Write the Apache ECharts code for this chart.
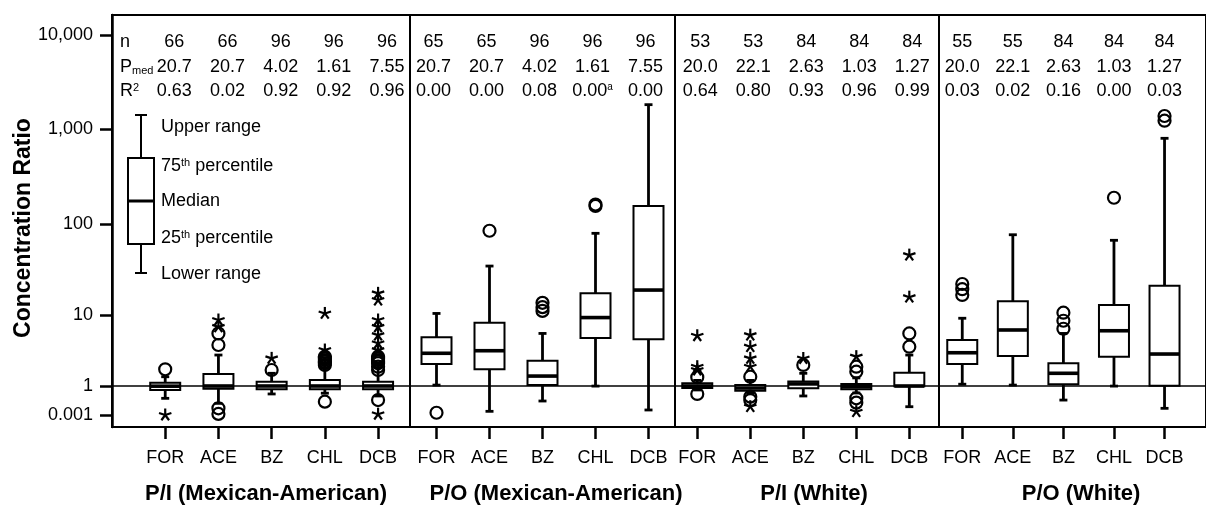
<!DOCTYPE html>
<html>
<head>
<meta charset="utf-8">
<script src="https://cdn.jsdelivr.net/npm/echarts@6/dist/echarts.min.js"></script>
<style>
  html, body { margin: 0; padding: 0; background: #fff; }
  #chart { width: 1206px; height: 505px; }
</style>
</head>
<body>
<div id="chart"></div>
<script>
// ---- data ----
const categories = ['FOR', 'ACE', 'BZ', 'CHL', 'DCB'];
const panelNames = ['P/I (Mexican-American)', 'P/O (Mexican-American)', 'P/I (White)', 'P/O (White)'];

const nCounts = [[66, 66, 96, 96, 96], [65, 65, 96, 96, 96], [53, 53, 84, 84, 84], [55, 55, 84, 84, 84]];
const medianP = [
  ['20.7', '20.7', '4.02', '1.61', '7.55'],
  ['20.7', '20.7', '4.02', '1.61', '7.55'],
  ['20.0', '22.1', '2.63', '1.03', '1.27'],
  ['20.0', '22.1', '2.63', '1.03', '1.27']
];
const rSquared = [
  ['0.63', '0.02', '0.92', '0.92', '0.96'],
  ['0.00', '0.00', '0.08', '0.00', '0.00'],
  ['0.64', '0.80', '0.93', '0.96', '0.99'],
  ['0.03', '0.02', '0.16', '0.00', '0.03']
];
const footnoteMark = { panel: 1, cat: 'CHL', mark: 'a' };

// box = [lower range, 25th, median, 75th, upper range]
const boxPIMex = [
  [0.053, 0.39, 0.96, 1.11, 1.35],
  [0.016, 0.53, 1.0, 1.48, 2.73],
  [0.15, 0.46, 1.0, 1.15, 1.51],
  [0.18, 0.46, 1.0, 1.21, 2.32],
  [0.093, 0.46, 1.0, 1.15, 2.09]
];
const boxPOMex = [
  [1.03, 2.04, 2.89, 4.85, 10.4],
  [0.0024, 1.72, 3.14, 7.8, 34.5],
  [0.028, 1.03, 1.38, 2.27, 5.5],
  [0.98, 4.74, 9.2, 17.3, 79],
  [0.0033, 4.55, 18.8, 155, 1815]
];
const boxPIWhite = [
  [0.39, 0.62, 1.0, 1.09, 1.2],
  [0.19, 0.33, 0.62, 1.03, 1.2],
  [0.093, 0.58, 1.07, 1.16, 1.51],
  [0.19, 0.46, 0.85, 1.07, 1.3],
  [0.0072, 0.93, 1.0, 1.54, 2.73]
];
const boxPOWhite = [
  [1.06, 2.04, 2.94, 4.45, 9.0],
  [1.03, 2.65, 6.15, 14.2, 76.2],
  [0.035, 1.06, 1.51, 2.09, 5.5],
  [0.98, 2.59, 6.0, 12.9, 66.2],
  [0.0049, 1.01, 2.82, 21, 798]
];

// outliers: [category, value]
const circlesPIMex = [['FOR', 1.72], ['ACE', 3.78], ['ACE', 5.5], ['ACE', 0.0049], ['ACE', 0.0013],
  ['BZ', 1.68], ['CHL', 2.59], ['CHL', 2.45], ['CHL', 2.32], ['CHL', 2.2], ['CHL', 2.09], ['CHL', 1.98], ['CHL', 0.024],
  ['DCB', 2.59], ['DCB', 2.45], ['DCB', 2.32], ['DCB', 2.2], ['DCB', 2.09], ['DCB', 1.87], ['DCB', 1.68], ['DCB', 0.035]];
const starsPIMex = [['FOR', 0.001], ['ACE', 8.5], ['ACE', 6.8], ['BZ', 2.45], ['CHL', 3.21], ['CHL', 10.4],
  ['DCB', 17.3], ['DCB', 14.6], ['DCB', 8.5], ['DCB', 6.8], ['DCB', 5.2], ['DCB', 4.0], ['DCB', 3.2], ['DCB', 0.0012]];

const circlesPOMex = [['FOR', 0.0017], ['ACE', 84.3], ['BZ', 13.6], ['BZ', 12.2], ['BZ', 11.1], ['CHL', 155], ['CHL', 160]];
const starsPOMex = [];

const circlesPIWhite = [['FOR', 1.33], ['FOR', 0.15], ['ACE', 1.35], ['ACE', 0.079], ['ACE', 0.035], ['BZ', 1.98],
  ['CHL', 1.87], ['CHL', 1.59], ['CHL', 0.053], ['CHL', 0.019], ['DCB', 5.5], ['DCB', 3.58]];
const starsPIWhite = [['FOR', 1.87], ['FOR', 1.68], ['FOR', 5.1], ['ACE', 5.2], ['ACE', 3.58], ['ACE', 2.45], ['ACE', 1.87],
  ['ACE', 0.0072], ['BZ', 2.44], ['CHL', 2.59], ['CHL', 0.0022], ['DCB', 45.5], ['DCB', 15.7]];

const circlesPOWhite = [['FOR', 21.9], ['FOR', 19.2], ['FOR', 16.6], ['BZ', 10.6], ['BZ', 8.3], ['BZ', 6.4],
  ['CHL', 189], ['DCB', 1375], ['DCB', 1225]];
const starsPOWhite = [];

const tickLabels = ['0.001', '1', '10', '100', '1,000', '10,000'];

// ---- broken log scale: log10 stops -> axis units ----
const LOG_STOPS = [-3, 0, 1, 2, 3, 4];
const POS_STOPS = [0, 29, 100, 191, 286, 380];
function toAxis(v) {
  const lg = Math.log10(v);
  let i = 0;
  while (i < LOG_STOPS.length - 2 && lg > LOG_STOPS[i + 1]) i++;
  const k = (lg - LOG_STOPS[i]) / (LOG_STOPS[i + 1] - LOG_STOPS[i]);
  return POS_STOPS[i] + k * (POS_STOPS[i + 1] - POS_STOPS[i]);
}

const FONT = "'Liberation Sans', Arial, sans-serif";
const FS = 18;

const panels = [
  { left: 112, width: 298, min: 0, max: 5.6, box: boxPIMex, circles: circlesPIMex, stars: starsPIMex, titleX: 266, statShift: 9 },
  { left: 410, width: 265, min: 0.5, max: 5.5, box: boxPOMex, circles: circlesPOMex, stars: starsPOMex, titleX: 556, statShift: -3 },
  { left: 675, width: 264, min: 0.58, max: 5.56, box: boxPIWhite, circles: circlesPIWhite, stars: starsPIWhite, titleX: 814, statShift: 3 },
  { left: 939, width: 280, min: 0.54, max: 5.82, box: boxPOWhite, circles: circlesPOWhite, stars: starsPOWhite, titleX: 1081, statShift: 0 }
];
const statRowsY = [42, 67, 91];

function renderBox(params, api) {
  const x = api.value(0);
  const p = [1, 2, 3, 4, 5].map(d => api.coord([x, api.value(d)]));
  const cx = p[0][0], hw = 15, cap = 4;
  const ls = { stroke: '#000', lineWidth: 2.8 };
  return {
    type: 'group',
    children: [
      { type: 'line', shape: { x1: cx, y1: p[4][1], x2: cx, y2: p[3][1] }, style: ls },
      { type: 'line', shape: { x1: cx - cap, y1: p[4][1], x2: cx + cap, y2: p[4][1] }, style: ls },
      { type: 'line', shape: { x1: cx, y1: p[1][1], x2: cx, y2: p[0][1] }, style: ls },
      { type: 'line', shape: { x1: cx - cap, y1: p[0][1], x2: cx + cap, y2: p[0][1] }, style: ls },
      { type: 'rect', shape: { x: cx - hw, y: p[3][1], width: hw * 2, height: p[1][1] - p[3][1] },
        style: { fill: '#fff', stroke: '#000', lineWidth: 2 } },
      { type: 'line', shape: { x1: cx - hw, y1: p[2][1], x2: cx + hw, y2: p[2][1] },
        style: { stroke: '#000', lineWidth: 3.6 } }
    ]
  };
}

function renderStar(params, api) {
  const c = api.coord([api.value(0), api.value(1)]);
  const r = 6.5;
  const children = [];
  for (let k = 0; k < 5; k++) {
    const a = (-90 + k * 72) * Math.PI / 180;
    children.push({ type: 'line', shape: { x1: c[0], y1: c[1], x2: c[0] + r * Math.cos(a), y2: c[1] + r * Math.sin(a) },
      style: { stroke: '#000', lineWidth: 2.2 } });
  }
  return { type: 'group', children };
}

function renderStats(pi) {
  return function (params, api) {
    const x = api.value(0), row = api.value(1);
    const ci = x - 1;
    const c = api.coord([x, 0]);
    let text = [nCounts, medianP, rSquared][row][pi][ci] + '';
    if (row === 2 && pi === footnoteMark.panel && categories[ci] === footnoteMark.cat) {
      text += '{a|' + footnoteMark.mark + '}';
    }
    return {
      type: 'text', x: c[0] + panels[pi].statShift, y: statRowsY[row],
      style: { text, fill: '#000', fontSize: FS, fontFamily: FONT, align: 'center', verticalAlign: 'middle',
        rich: { a: { fontSize: 10, fontFamily: FONT, verticalAlign: 'top' } } }
    };
  };
}

const grid = [], xAxis = [], yAxis = [], series = [];
panels.forEach((pn, pi) => {
  grid.push({ left: pn.left, top: 15, width: pn.width, height: 412, show: true, borderColor: '#000', borderWidth: 2 });
  xAxis.push({
    type: 'value', gridIndex: pi, min: pn.min, max: pn.max,
    splitLine: { show: false },
    axisLine: { show: true, onZero: false, lineStyle: { color: '#000', width: 2 } },
    axisTick: { show: true, customValues: [1, 2, 3, 4, 5], length: 12, lineStyle: { color: '#000', width: 2.5 } },
    axisLabel: { customValues: [1, 2, 3, 4, 5], formatter: v => categories[v - 1], color: '#000',
      fontSize: FS, fontFamily: FONT, margin: 22 }
  });
  yAxis.push({
    type: 'value', gridIndex: pi, min: -12, max: 400,
    show: pi === 0,
    splitLine: { show: false },
    axisLine: { show: true, lineStyle: { color: '#000', width: 2.5 } },
    axisTick: { show: true, customValues: POS_STOPS, length: 12, lineStyle: { color: '#000', width: 2.5 } },
    axisLabel: { customValues: POS_STOPS, formatter: v => tickLabels[POS_STOPS.indexOf(v)], color: '#000',
      fontSize: FS, fontFamily: FONT, margin: 19 }
  });
  series.push({
    type: 'custom', xAxisIndex: pi, yAxisIndex: pi, z: 3,
    renderItem: renderBox,
    data: pn.box.map((b, i) => [i + 1].concat(b.map(toAxis))),
    markLine: {
      silent: true, symbol: 'none', label: { show: false }, z: 1,
      lineStyle: { color: '#000', width: 1.6, type: 'solid' },
      data: [{ yAxis: toAxis(1) }]
    }
  });
  series.push({
    type: 'scatter', xAxisIndex: pi, yAxisIndex: pi, z: 4, symbol: 'circle', symbolSize: 12,
    itemStyle: { color: 'rgba(0,0,0,0)', borderColor: '#000', borderWidth: 2.2, opacity: 1 },
    data: pn.circles.map(o => [categories.indexOf(o[0]) + 1, toAxis(o[1])])
  });
  series.push({
    type: 'custom', xAxisIndex: pi, yAxisIndex: pi, z: 4, renderItem: renderStar,
    data: pn.stars.map(o => [categories.indexOf(o[0]) + 1, toAxis(o[1])])
  });
  const statData = [];
  for (let r = 0; r < 3; r++) for (let c = 1; c <= 5; c++) statData.push([c, r]);
  series.push({
    type: 'custom', xAxisIndex: pi, yAxisIndex: pi, z: 5, renderItem: renderStats(pi), clip: false,
    data: statData
  });
});

// key (legend illustration) and static text
const key = { cx: 141, hw: 13, top: 115, q3: 158, med: 201, q1: 244, bottom: 273 };
const lw = { stroke: '#000', lineWidth: 2 };
const txt = (text, x, y) => ({
  type: 'text', x, y, z: 10,
  style: { text, fill: '#000', fontSize: FS, fontFamily: FONT, verticalAlign: 'middle',
    rich: { sup: { fontSize: 11, fontFamily: FONT, verticalAlign: 'top' },
            sub: { fontSize: 11, fontFamily: FONT, verticalAlign: 'bottom' } } }
});
const graphic = [
  { type: 'line', z: 10, shape: { x1: key.cx, y1: key.top, x2: key.cx, y2: key.q3 }, style: lw },
  { type: 'line', z: 10, shape: { x1: key.cx - 6, y1: key.top, x2: key.cx + 6, y2: key.top }, style: lw },
  { type: 'rect', z: 10, shape: { x: key.cx - key.hw, y: key.q3, width: key.hw * 2, height: key.q1 - key.q3 },
    style: { fill: '#fff', stroke: '#000', lineWidth: 2 } },
  { type: 'line', z: 10, shape: { x1: key.cx - key.hw, y1: key.med, x2: key.cx + key.hw, y2: key.med },
    style: { stroke: '#000', lineWidth: 3 } },
  { type: 'line', z: 10, shape: { x1: key.cx, y1: key.q1, x2: key.cx, y2: key.bottom }, style: lw },
  { type: 'line', z: 10, shape: { x1: key.cx - 6, y1: key.bottom, x2: key.cx + 6, y2: key.bottom }, style: lw },
  txt('Upper range', 161, 127),
  txt('75{sup|th} percentile', 161, 166),
  txt('Median', 161, 201),
  txt('25{sup|th} percentile', 161, 238),
  txt('Lower range', 161, 274),
  txt('n', 120, statRowsY[0]),
  txt('P{sub|med}', 120, statRowsY[1]),
  txt('R{sup|2}', 120, statRowsY[2]),
  {
    type: 'text', x: 24, y: 228, rotation: Math.PI / 2, z: 10,
    style: { text: 'Concentration Ratio', fill: '#000', fontSize: 23, fontWeight: 'bold',
      fontFamily: FONT, align: 'center', verticalAlign: 'middle' }
  }
].concat(panels.map((pn, i) => ({
  type: 'text', x: pn.titleX, y: 494, z: 10,
  style: { text: panelNames[i], fill: '#000', fontSize: 22, fontWeight: 'bold', fontFamily: FONT,
    align: 'center', verticalAlign: 'middle' }
})));

const chart = echarts.init(document.getElementById('chart'), null, { renderer: 'canvas' });
chart.setOption({
  animation: false,
  backgroundColor: '#fff',
  grid, xAxis, yAxis, series, graphic
});
</script>
</body>
</html>
